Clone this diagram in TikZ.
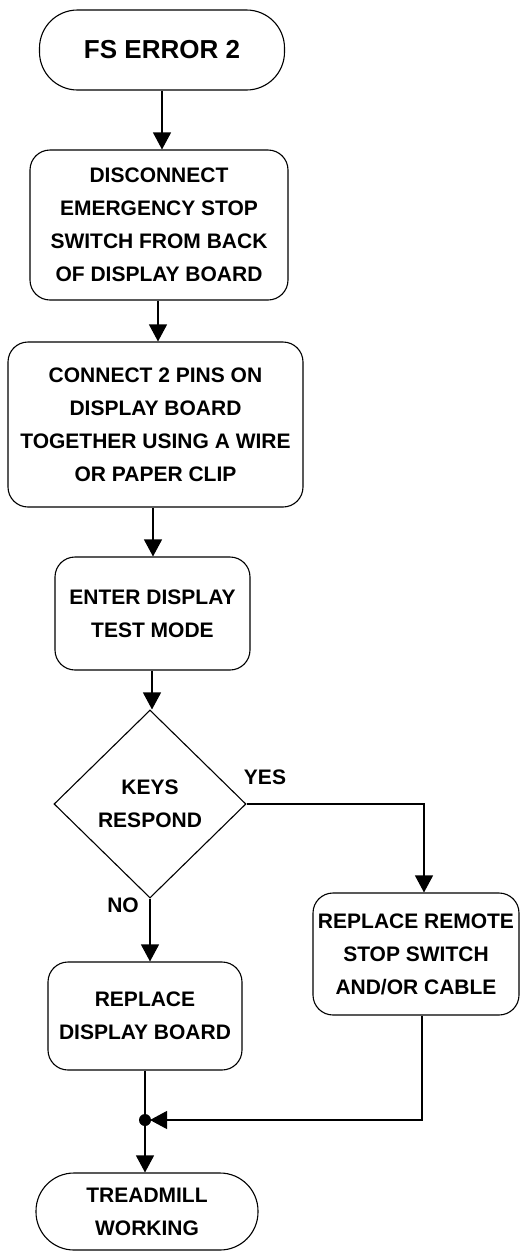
\documentclass[tikz,border=0pt]{standalone}
\usepackage{fontspec}
\setmainfont{Liberation Sans}
\usetikzlibrary{shapes.geometric,arrows.meta}
\begin{document}
\begin{tikzpicture}[x=1pt,y=-1pt,
  txt/.style={font=\fontsize{21}{33}\selectfont\bfseries, align=center},
  box/.style={txt, draw, line width=1.1pt, rounded corners=20pt, inner sep=0pt},
  term/.style={box, rounded corners=38pt},
  arr/.style={-{Triangle[width=18pt,length=17pt]}, line width=1.1pt},
  ln/.style={line width=1.1pt}]
\fill[white] (0,0) rectangle (520,1251);
\useasboundingbox (0,0) rectangle (520,1251);

\node[term, minimum width=245pt, minimum height=80pt, font=\fontsize{26}{30}\selectfont\bfseries] (start) at (162,50) {FS ERROR 2};
\node[box, minimum width=258pt, minimum height=150pt] (disc) at (159,225) {DISCONNECT\\EMERGENCY STOP\\SWITCH FROM BACK\\OF DISPLAY BOARD};
\node[box, minimum width=295pt, minimum height=165pt] (conn) at (155.5,424.5) {CONNECT 2 PINS ON\\DISPLAY BOARD\\TOGETHER USING A WIRE\\OR PAPER CLIP};
\node[box, minimum width=195pt, minimum height=113pt] (enter) at (152.5,613.5) {ENTER DISPLAY\\TEST MODE};
\node[txt, draw, line width=1.1pt, shape=diamond, inner sep=0pt, minimum width=192pt, minimum height=188pt] (dia) at (150,804) {KEYS\\RESPOND};
\node[box, minimum width=206pt, minimum height=122pt] (remote) at (416,954) {REPLACE REMOTE\\STOP SWITCH\\AND/OR CABLE};
\node[box, minimum width=194pt, minimum height=108pt] (display) at (145,1016) {REPLACE\\DISPLAY BOARD};
\node[term, minimum width=222pt, minimum height=77pt] (tread) at (147,1211.5) {TREADMILL\\WORKING};

\node[txt] (yes) at (265,777) {YES};
\node[txt] (no) at (123,905) {NO};

\coordinate (j) at (145,1120);

\draw[arr] (start.south) -- (start.south |- disc.north);
\draw[arr] ([xshift=-1pt]disc.south) -- ([xshift=-1pt]disc.south |- conn.north);
\draw[arr] ([xshift=-2.5pt]conn.south) -- ([xshift=-2.5pt]conn.south |- enter.north);
\draw[arr] ([xshift=-0.5pt]enter.south) -- ([xshift=-0.5pt]enter.south |- dia.north);
\draw[arr] (dia.east) -| ([xshift=8pt]remote.north);
\draw[arr] (dia.south) -- (dia.south |- display.north);
\draw[ln] (display.south) -- (j);
\draw[arr] (j) -- (j |- tread.north);
\draw[arr, shorten >=5pt] ([xshift=6pt]remote.south) |- (j);
\fill (j) circle (6pt);
\end{tikzpicture}
\end{document}
